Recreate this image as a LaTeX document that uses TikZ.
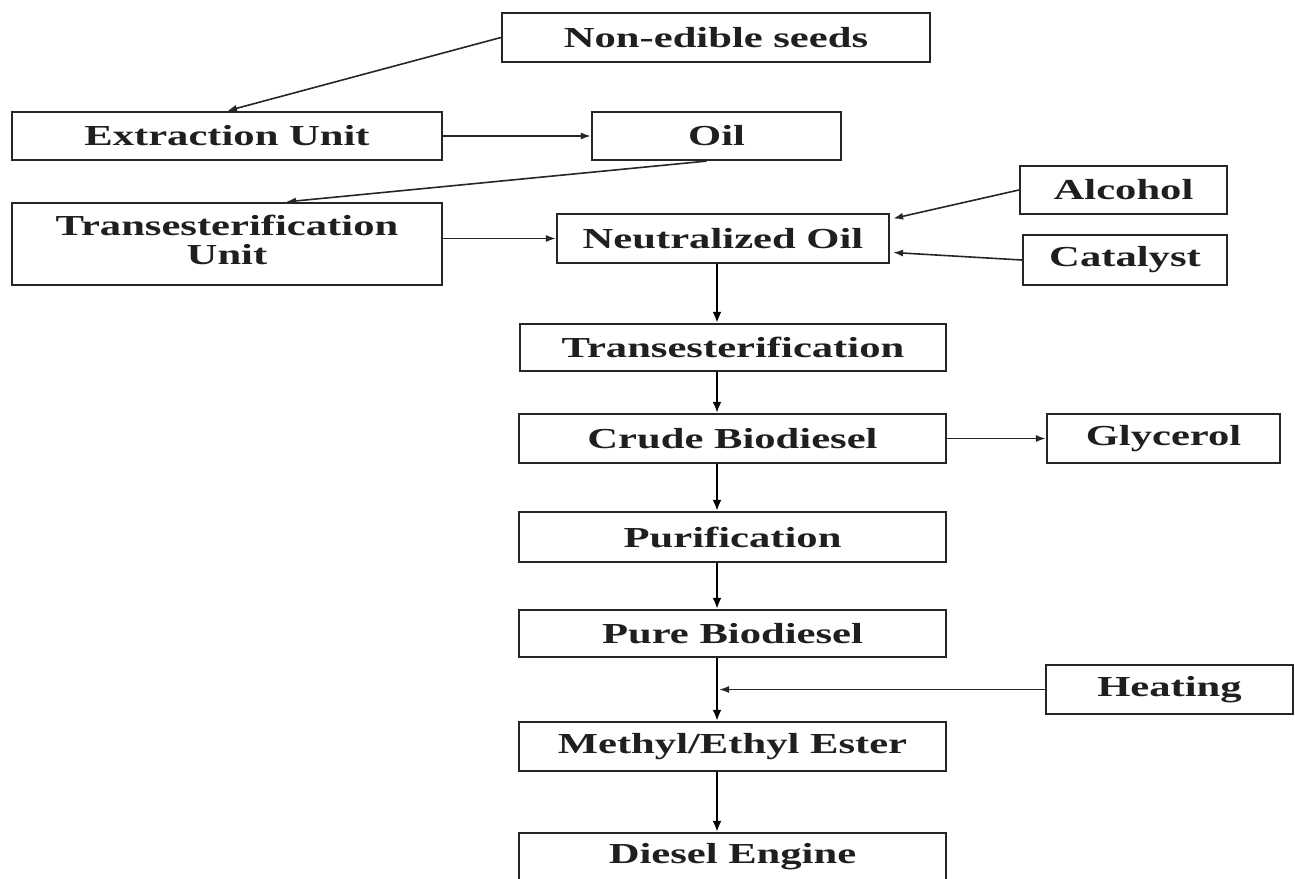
\documentclass[tikz,border=0pt]{standalone}
\usepackage{fontspec}
\setmainfont{Liberation Serif}[FakeStretch=1.47]
\usetikzlibrary{arrows.meta,calc}
\begin{document}
\begin{tikzpicture}[x=1pt,y=-1pt,
  box/.style={draw=black!85, line width=2.2pt, inner sep=0pt,
    font=\fontsize{29}{29}\selectfont\bfseries, text=black!88, align=center},
  conn/.style={draw=black!85, line width=1.6pt, -{Latex[length=10pt,width=7pt]}},
  vconn/.style={draw=black, line width=2.8pt, -{Latex[length=11pt,width=9pt]}}]
\useasboundingbox (0,0) rectangle (1295,878);
\clip (0,0) rectangle (1295,878);
\node[box, minimum width=428pt, minimum height=49pt] (seeds) at (716,37.5) {Non-edible seeds};
\node[box, minimum width=430pt, minimum height=48pt] (ext) at (227,136) {Extraction Unit};
\node[box, minimum width=249pt, minimum height=48pt] (oil) at (716.5,136) {Oil};
\node[box, minimum width=430pt, minimum height=82pt] (tu) at (227,244) {\raisebox{4pt}{\begin{tabular}{@{}c@{}}Transesterification\\Unit\end{tabular}}};
\node[box, minimum width=332pt, minimum height=49pt] (no) at (723,238.5) {Neutralized Oil};
\node[box, minimum width=207pt, minimum height=48pt] (alc) at (1123.5,190) {Alcohol};
\node[box, minimum width=204pt, minimum height=50pt] (cat) at (1125,260) {Catalyst};
\node[box, minimum width=426pt, minimum height=47pt] (tr) at (733,347.5) {Transesterification};
\node[box, minimum width=427pt, minimum height=49pt] (cb) at (732.5,438.5) {Crude Biodiesel};
\node[box, minimum width=233pt, minimum height=49pt] (gly) at (1163.5,438.5) {Glycerol};
\node[box, minimum width=427pt, minimum height=50pt] (pur) at (732.5,537) {Purification};
\node[box, minimum width=427pt, minimum height=47pt] (pb) at (732.5,633.5) {Pure Biodiesel};
\node[box, minimum width=247pt, minimum height=49pt] (heat) at (1169.5,689.5) {Heating};
\node[box, minimum width=427pt, minimum height=49pt] (me) at (732.5,746.5) {Methyl/Ethyl Ester};
\node[box, minimum width=427pt, minimum height=48pt] (de) at (732.5,857) {Diesel Engine};
\coordinate (sp) at (717,0);
\coordinate (hp) at (719,0);
\draw[conn] (seeds.west) -- (ext.north);
\draw[conn] (ext.east) -- (oil.west);
\draw[conn] ([xshift=-10pt]oil.south) -- ([xshift=59pt]tu.north);
\draw[conn] (tu.east |- no.west) -- (no.west);
\draw[conn] (alc.west) -- ([xshift=3pt,yshift=20pt]no.east);
\draw[conn] (cat.west) -- ([xshift=3pt,yshift=-14pt]no.east);
\draw[vconn] (no.south -| sp) -- (tr.north -| sp);
\draw[vconn] (tr.south -| sp) -- (cb.north -| sp);
\draw[conn] (cb.east) -- (gly.west);
\draw[vconn] (cb.south -| sp) -- (pur.north -| sp);
\draw[vconn] (pur.south -| sp) -- (pb.north -| sp);
\draw[vconn] (pb.south -| sp) -- (me.north -| sp);
\draw[conn] (heat.west) -- (heat.west -| hp);
\draw[vconn] (me.south -| sp) -- (de.north -| sp);
\end{tikzpicture}
\end{document}
